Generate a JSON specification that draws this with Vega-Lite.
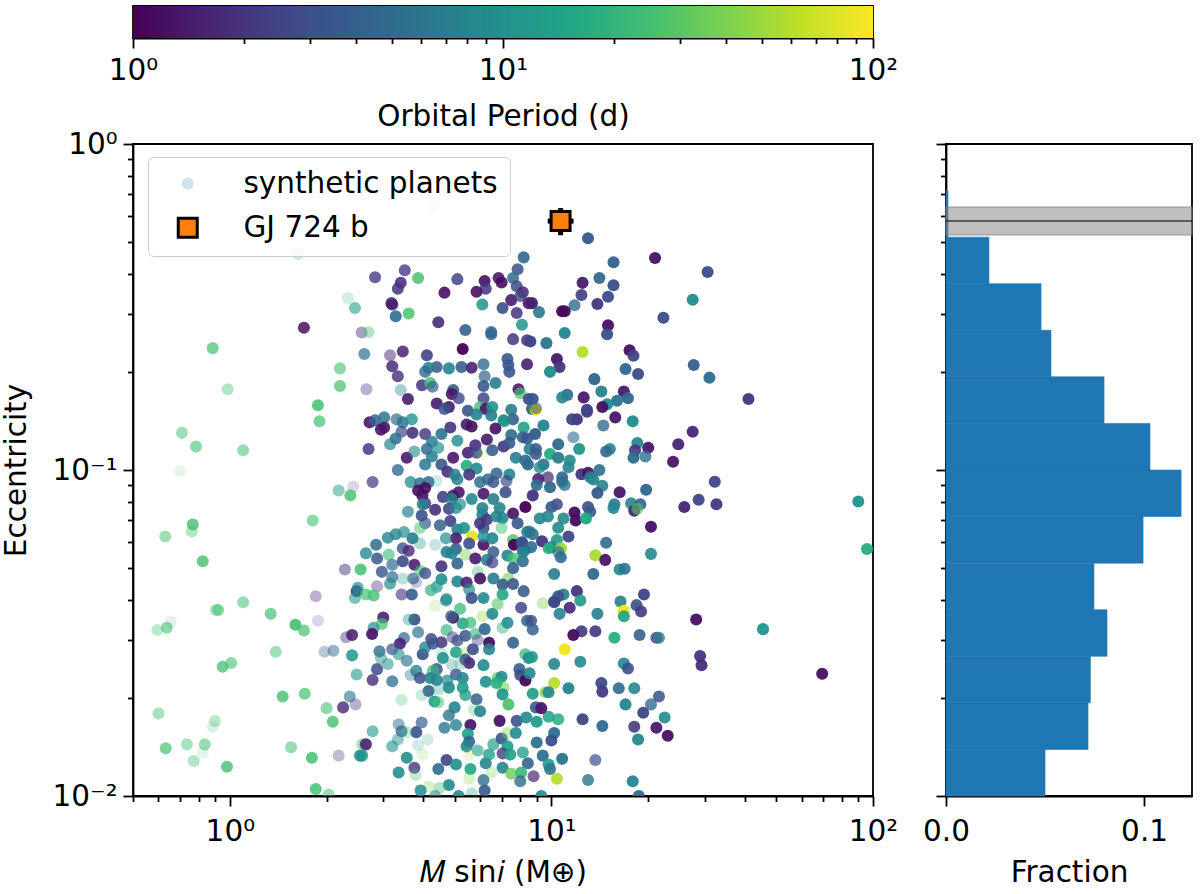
{"$schema":"https://vega.github.io/schema/vega-lite/v6.json","background":"white","padding":{"left":0,"top":5,"right":5,"bottom":5},"bounds":"flush","columns":2,"spacing":{"row":106,"column":73},
"config":{"font":"DejaVu Sans","view":{"stroke":"black","strokeWidth":1.8},"axis":{"grid":false,"labelFontSize":29.5,"titleFontSize":29.5,"titleFontWeight":"normal","labelColor":"black","titleColor":"black","domainColor":"black","tickColor":"black","domainWidth":1.8,"tickWidth":1.8,"labelOverlap":false,"labelFlush":false,"labelBound":false}},
"concat":[
{"width":740,"height":32,"data":{"values":[{"low":1,"high":100}]},"mark":{"type":"rect","color":{"gradient":"linear","x1":0,"y1":0,"x2":1,"y2":0,"stops":[{"offset":0,"color":"#440154"},{"offset":0.1,"color":"#482475"},{"offset":0.2,"color":"#414487"},{"offset":0.3,"color":"#355f8d"},{"offset":0.4,"color":"#2a788e"},{"offset":0.5,"color":"#21918c"},{"offset":0.6,"color":"#22a884"},{"offset":0.7,"color":"#44bf70"},{"offset":0.8,"color":"#7ad151"},{"offset":0.9,"color":"#bddf26"},{"offset":1,"color":"#fde725"}]}},"encoding":{"x":{"field":"low","type":"quantitative","scale":{"type":"log","domain":[1,100],"nice":false},"axis":{"title":"Orbital Period (d)","values":[1,2,3,4,5,6,7,8,9,10,20,30,40,50,60,70,80,90,100],"labelExpr":"datum.value==1?'10⁰':datum.value==10?'10¹':datum.value==100?'10²':''","tickSize":{"condition":{"test":"datum.value==1||datum.value==10||datum.value==100","value":10},"value":5.5},"labelPadding":8,"titlePadding":18}},"x2":{"field":"high"}}},
{"width":246,"height":32,"view":{"stroke":null},"data":{"values":[]},"mark":"point","encoding":{}},
{"height":652,"width":740,"layer":[
{"data":{"values":[
{"m":0.7,"e":0.0995,"p":28,"w":0.15},{"m":2.18,"e":0.0865,"p":12,"w":0.5},{"m":2.42,"e":0.089,"p":2,"w":0.2},{"m":2.37,"e":0.0835,"p":25,"w":0.8},{"m":1.81,"e":0.07,"p":25,"w":0.6},{"m":0.767,"e":0.068,"p":25,"w":0.8},{"m":0.762,"e":0.0648,"p":25,"w":0.4},{"m":0.63,"e":0.0625,"p":25,"w":0.5},{"m":0.824,"e":0.0525,"p":25,"w":0.8},{"m":2.28,"e":0.0495,"p":2,"w":0.5},{"m":2.55,"e":0.0495,"p":25,"w":0.85},{"m":2.48,"e":0.0425,"p":1.8,"w":0.9},{"m":2.45,"e":0.0405,"p":13,"w":0.6},{"m":2.5,"e":0.0435,"p":10,"w":0.7},{"m":1.85,"e":0.041,"p":1.5,"w":0.35},{"m":1.1,"e":0.0393,"p":25,"w":0.55},{"m":0.905,"e":0.0372,"p":25,"w":0.4},{"m":0.92,"e":0.0372,"p":25,"w":0.6},{"m":1.34,"e":0.0362,"p":25,"w":0.7},{"m":1.6,"e":0.0335,"p":25,"w":0.9},{"m":1.7,"e":0.0322,"p":25,"w":0.7},{"m":1.88,"e":0.0345,"p":2.2,"w":0.2},{"m":0.655,"e":0.0342,"p":25,"w":0.15},{"m":0.637,"e":0.0328,"p":25,"w":0.6},{"m":0.595,"e":0.0323,"p":25,"w":0.35},{"m":2.3,"e":0.0307,"p":2,"w":0.45},{"m":2.4,"e":0.0312,"p":1.3,"w":0.85},{"m":1.39,"e":0.0277,"p":25,"w":0.5},{"m":1.97,"e":0.0277,"p":4,"w":0.35},{"m":2.1,"e":0.0279,"p":4.5,"w":0.5},{"m":2.4,"e":0.027,"p":11,"w":0.85},{"m":2.48,"e":0.0236,"p":12,"w":0.6},{"m":1.01,"e":0.0256,"p":25,"w":0.6},{"m":0.95,"e":0.0249,"p":25,"w":0.75},{"m":1.71,"e":0.0206,"p":25,"w":0.7},{"m":1.46,"e":0.0202,"p":25,"w":0.8},{"m":2.36,"e":0.0202,"p":5,"w":0.6},{"m":2.25,"e":0.0187,"p":1.6,"w":0.8},{"m":2.46,"e":0.0191,"p":2.5,"w":0.4},{"m":2.0,"e":0.0186,"p":25,"w":0.6},{"m":2.09,"e":0.0169,"p":25,"w":0.8},{"m":0.6,"e":0.0179,"p":25,"w":0.45},{"m":0.9,"e":0.017,"p":25,"w":0.35},{"m":0.885,"e":0.0163,"p":25,"w":0.2},{"m":0.632,"e":0.014,"p":25,"w":0.7},{"m":0.735,"e":0.0144,"p":25,"w":0.45},{"m":0.836,"e":0.0144,"p":25,"w":0.55},{"m":0.825,"e":0.0136,"p":25,"w":0.15},{"m":0.772,"e":0.0128,"p":25,"w":0.4},{"m":0.98,"e":0.0123,"p":25,"w":0.8},{"m":1.55,"e":0.0141,"p":25,"w":0.55},{"m":1.8,"e":0.0131,"p":25,"w":0.85},{"m":2.18,"e":0.0133,"p":2.5,"w":0.35},{"m":2.54,"e":0.0133,"p":10,"w":0.85},{"m":1.85,"e":0.0105,"p":25,"w":0.85},{"m":2.03,"e":0.0101,"p":25,"w":0.5},{"m":2.6,"e":0.0144,"p":25,"w":0.3},
{"m":4.3,"e":0.645,"p":4,"w":0.15},{"m":2.33,"e":0.556,"p":2,"w":0.1},{"m":1.63,"e":0.46,"p":25,"w":0.3},{"m":0.885,"e":0.2365,"p":25,"w":0.7},{"m":0.985,"e":0.177,"p":25,"w":0.4},{"m":0.71,"e":0.13,"p":25,"w":0.5},{"m":1.1,"e":0.115,"p":25,"w":0.55},{"m":0.785,"e":0.118,"p":25,"w":0.6},{"m":2.2,"e":0.205,"p":25,"w":0.6},{"m":2.2,"e":0.181,"p":25,"w":0.7},{"m":1.88,"e":0.158,"p":25,"w":0.85},{"m":1.9,"e":0.141,"p":25,"w":0.7},{"m":1.7,"e":0.273,"p":1.2,"w":0.85},{"m":2.33,"e":0.337,"p":14,"w":0.2},
{"m":8.2,"e":0.449,"p":5,"w":0.9},{"m":7.85,"e":0.413,"p":3,"w":0.85},{"m":7.6,"e":0.388,"p":5,"w":0.85},{"m":6.85,"e":0.388,"p":1.4,"w":0.9},{"m":7,"e":0.376,"p":1.2,"w":0.9},{"m":6.2,"e":0.38,"p":1.2,"w":0.9},{"m":6.25,"e":0.36,"p":2,"w":0.85},{"m":5.85,"e":0.352,"p":1.2,"w":0.9},{"m":5.1,"e":0.385,"p":2.5,"w":0.85},{"m":4.65,"e":0.35,"p":1.2,"w":0.9},{"m":3.5,"e":0.41,"p":2.2,"w":0.8},{"m":2.83,"e":0.39,"p":2.2,"w":0.8},{"m":3.85,"e":0.388,"p":27,"w":0.85},{"m":3.4,"e":0.375,"p":1.6,"w":0.85},{"m":3.33,"e":0.36,"p":2,"w":0.85},{"m":3.18,"e":0.325,"p":1.8,"w":0.85},{"m":3.2,"e":0.322,"p":1.4,"w":0.85},{"m":2.45,"e":0.314,"p":14,"w":0.6},{"m":3.6,"e":0.302,"p":27,"w":0.85},{"m":3.28,"e":0.296,"p":5,"w":0.9},{"m":4.45,"e":0.284,"p":1.8,"w":0.9},{"m":5.4,"e":0.269,"p":4,"w":0.9},{"m":6.5,"e":0.265,"p":4.5,"w":0.85},{"m":6.5,"e":0.261,"p":4.5,"w":0.85},{"m":7.6,"e":0.252,"p":2,"w":0.85},{"m":6.1,"e":0.322,"p":11,"w":0.85},{"m":7.8,"e":0.366,"p":3,"w":0.85},{"m":8.15,"e":0.351,"p":1.6,"w":0.85},{"m":7.5,"e":0.332,"p":1.4,"w":0.9},{"m":8,"e":0.342,"p":2.5,"w":0.8},{"m":7.05,"e":0.314,"p":3,"w":0.9},{"m":7.8,"e":0.303,"p":2,"w":0.85},{"m":8.1,"e":0.279,"p":11,"w":0.85},{"m":8.4,"e":0.25,"p":2,"w":0.85},{"m":8.5,"e":0.325,"p":1.3,"w":0.9},{"m":2.57,"e":0.264,"p":1.8,"w":0.45},{"m":2.7,"e":0.265,"p":25,"w":0.4},{"m":2.62,"e":0.227,"p":5,"w":0.7},{"m":3.15,"e":0.225,"p":1.5,"w":0.5},{"m":3.45,"e":0.231,"p":1.5,"w":0.85},{"m":3.2,"e":0.208,"p":1.8,"w":0.85},{"m":3.33,"e":0.194,"p":1.8,"w":0.8},{"m":2.66,"e":0.177,"p":2.5,"w":0.4},{"m":3.4,"e":0.176,"p":8,"w":0.4},{"m":3.58,"e":0.165,"p":1.4,"w":0.9},{"m":4.1,"e":0.225,"p":2.5,"w":0.9},{"m":5.3,"e":0.235,"p":1,"w":0.95},{"m":4.4,"e":0.207,"p":3.5,"w":0.85},{"m":4.15,"e":0.206,"p":7,"w":0.85},{"m":4.05,"e":0.2,"p":4.5,"w":0.8},{"m":4.8,"e":0.205,"p":8,"w":0.9},{"m":5.25,"e":0.207,"p":4,"w":0.9},{"m":5.65,"e":0.206,"p":1.5,"w":0.9},{"m":6.15,"e":0.211,"p":5,"w":0.8},{"m":6.2,"e":0.194,"p":4,"w":0.7},{"m":6.15,"e":0.181,"p":3.7,"w":0.9},{"m":6.7,"e":0.185,"p":7,"w":0.9},{"m":7.3,"e":0.219,"p":3.5,"w":0.9},{"m":7.35,"e":0.21,"p":3.5,"w":0.9},{"m":7.4,"e":0.2,"p":3.5,"w":0.9},{"m":8.4,"e":0.211,"p":1.5,"w":0.9},{"m":3.96,"e":0.182,"p":2,"w":0.85},{"m":4.2,"e":0.185,"p":25,"w":0.85},{"m":4.27,"e":0.18,"p":4,"w":0.7},{"m":4.95,"e":0.176,"p":3.5,"w":0.9},{"m":4.9,"e":0.171,"p":1.3,"w":0.9},{"m":5.15,"e":0.166,"p":2.5,"w":0.8},{"m":4.4,"e":0.16,"p":1.4,"w":0.9},{"m":4.8,"e":0.156,"p":1.3,"w":0.9},{"m":4.65,"e":0.154,"p":3,"w":0.85},{"m":6.15,"e":0.166,"p":2.5,"w":0.85},{"m":6,"e":0.156,"p":25,"w":0.8},{"m":6.25,"e":0.154,"p":1.3,"w":0.9},{"m":6.55,"e":0.156,"p":11,"w":0.9},{"m":5.5,"e":0.152,"p":3.5,"w":0.9},{"m":5.85,"e":0.148,"p":8,"w":0.9},{"m":6.5,"e":0.147,"p":7,"w":0.9},{"m":7.5,"e":0.153,"p":7,"w":0.9},{"m":7.1,"e":0.142,"p":8,"w":0.9},{"m":7.6,"e":0.143,"p":4,"w":0.9},{"m":7.9,"e":0.177,"p":1.3,"w":0.9},{"m":8,"e":0.172,"p":25,"w":0.7},{"m":8.5,"e":0.165,"p":2.5,"w":0.9},
{"m":2.72,"e":0.14,"p":1.3,"w":0.9},{"m":2.83,"e":0.142,"p":4,"w":0.85},{"m":3.02,"e":0.145,"p":6,"w":0.85},{"m":2.95,"e":0.133,"p":1.3,"w":0.9},{"m":3.02,"e":0.135,"p":1.3,"w":0.9},{"m":3.3,"e":0.143,"p":5,"w":0.7},{"m":3.45,"e":0.14,"p":6,"w":0.85},{"m":3.68,"e":0.143,"p":11,"w":0.8},{"m":3.42,"e":0.131,"p":2.8,"w":0.7},{"m":3.7,"e":0.13,"p":2,"w":0.9},{"m":3.28,"e":0.125,"p":5,"w":0.85},{"m":3.15,"e":0.12,"p":8,"w":0.7},{"m":2.7,"e":0.116,"p":2.2,"w":0.85},{"m":3.55,"e":0.109,"p":1.3,"w":0.9},{"m":3.75,"e":0.114,"p":8,"w":0.6},{"m":4.05,"e":0.129,"p":1.8,"w":0.8},{"m":4.55,"e":0.129,"p":6,"w":0.9},{"m":4.25,"e":0.122,"p":7,"w":0.85},{"m":4.1,"e":0.116,"p":5,"w":0.85},{"m":4.45,"e":0.117,"p":10,"w":0.7},{"m":4.25,"e":0.11,"p":7,"w":0.85},{"m":5.1,"e":0.123,"p":9,"w":0.8},{"m":4.85,"e":0.135,"p":2,"w":0.9},{"m":5.45,"e":0.138,"p":1.4,"w":0.9},{"m":5.65,"e":0.136,"p":1.2,"w":0.9},{"m":6.7,"e":0.134,"p":1.2,"w":0.9},{"m":7.15,"e":0.141,"p":11,"w":0.7},{"m":8.2,"e":0.135,"p":15,"w":0.9},{"m":7.5,"e":0.128,"p":5,"w":0.9},{"m":8.15,"e":0.126,"p":4,"w":0.9},{"m":8.4,"e":0.125,"p":3.5,"w":0.9},{"m":6.3,"e":0.124,"p":1.4,"w":0.9},{"m":5.8,"e":0.119,"p":1.8,"w":0.9},{"m":5.5,"e":0.113,"p":1.5,"w":0.9},{"m":5.85,"e":0.113,"p":3,"w":0.85},{"m":6.1,"e":0.112,"p":60,"w":0.15},{"m":6.55,"e":0.115,"p":4,"w":0.9},{"m":7.1,"e":0.118,"p":2,"w":0.9},{"m":7.4,"e":0.121,"p":3.5,"w":0.9},{"m":7.75,"e":0.109,"p":7,"w":0.9},{"m":8.3,"e":0.107,"p":4.5,"w":0.9},{"m":4.95,"e":0.109,"p":1.3,"w":0.9},{"m":4.05,"e":0.104,"p":6,"w":0.85},{"m":4.55,"e":0.104,"p":3.5,"w":0.9},{"m":3.33,"e":0.1,"p":5,"w":0.8},{"m":5.45,"e":0.103,"p":17,"w":0.9},{"m":5.85,"e":0.101,"p":9,"w":0.9},{"m":4.75,"e":0.0987,"p":1.8,"w":0.9},{"m":5,"e":0.0968,"p":7,"w":0.85},{"m":5.55,"e":0.0968,"p":2,"w":0.9},{"m":5.1,"e":0.0936,"p":7,"w":0.85},{"m":3.65,"e":0.0918,"p":9,"w":0.75},{"m":3.9,"e":0.091,"p":6,"w":0.85},{"m":4.15,"e":0.0918,"p":5,"w":0.85},{"m":4.4,"e":0.0925,"p":12,"w":0.2},{"m":2.78,"e":0.0918,"p":2,"w":0.7},{"m":6,"e":0.0918,"p":5,"w":0.85},{"m":6.35,"e":0.0936,"p":5,"w":0.85},{"m":6.75,"e":0.0975,"p":4,"w":0.85},{"m":7.4,"e":0.0968,"p":8,"w":0.9},{"m":6.6,"e":0.0918,"p":3.5,"w":0.85},{"m":7.25,"e":0.0925,"p":3,"w":0.7},{"m":7.2,"e":0.0855,"p":3,"w":0.9},{"m":6.15,"e":0.0845,"p":1.3,"w":0.9},{"m":4.05,"e":0.088,"p":1.2,"w":0.9},{"m":3.85,"e":0.0865,"p":1.2,"w":0.9},{"m":3.97,"e":0.0835,"p":1.2,"w":0.9},{"m":4.6,"e":0.0827,"p":2.5,"w":0.9},{"m":4.95,"e":0.0835,"p":1.4,"w":0.9},{"m":5.15,"e":0.0855,"p":1.3,"w":0.9},{"m":4.9,"e":0.0815,"p":7,"w":0.85},{"m":5.65,"e":0.0815,"p":9,"w":0.9},{"m":4.05,"e":0.079,"p":1.8,"w":0.8},{"m":3.98,"e":0.0785,"p":8,"w":0.85},{"m":5.2,"e":0.0785,"p":10,"w":0.7},{"m":4.35,"e":0.0755,"p":1.8,"w":0.9},{"m":4.8,"e":0.076,"p":2.8,"w":0.9},{"m":5.05,"e":0.0765,"p":9,"w":0.75},{"m":3.95,"e":0.0725,"p":3.2,"w":0.9},{"m":3.58,"e":0.0745,"p":8,"w":0.7},{"m":6.1,"e":0.0765,"p":8,"w":0.9},{"m":6.6,"e":0.0815,"p":7,"w":0.9},{"m":6.9,"e":0.0765,"p":8,"w":0.9},{"m":7.6,"e":0.0735,"p":1.2,"w":0.9},{"m":8.3,"e":0.077,"p":1,"w":0.95},{"m":6.1,"e":0.073,"p":8,"w":0.9},{"m":6.3,"e":0.0705,"p":2.2,"w":0.9},{"m":7.05,"e":0.0712,"p":8,"w":0.9},{"m":6.75,"e":0.072,"p":8,"w":0.9},{"m":7.85,"e":0.0686,"p":3.5,"w":0.9},{"m":4.05,"e":0.0686,"p":3.5,"w":0.7},{"m":3.9,"e":0.0664,"p":25,"w":0.5},{"m":4.5,"e":0.0677,"p":4,"w":0.85},{"m":4.85,"e":0.0697,"p":2.5,"w":0.9},{"m":5.1,"e":0.0657,"p":8,"w":0.9},{"m":5.35,"e":0.0664,"p":11,"w":0.9},{"m":6.15,"e":0.0664,"p":3.5,"w":0.9},{"m":6,"e":0.0686,"p":2,"w":0.9},{"m":7,"e":0.0664,"p":25,"w":0.5},{"m":5.65,"e":0.0625,"p":85,"w":0.95},{"m":5.05,"e":0.0617,"p":1.4,"w":0.9},{"m":5.55,"e":0.0595,"p":3,"w":0.9},{"m":6.15,"e":0.059,"p":1.2,"w":0.9},{"m":6.55,"e":0.0617,"p":8,"w":0.9},{"m":6.15,"e":0.0625,"p":9,"w":0.8},{"m":7.6,"e":0.061,"p":30,"w":0.85},{"m":7.65,"e":0.059,"p":1,"w":0.95},{"m":8.1,"e":0.06,"p":3.5,"w":0.9},{"m":8.4,"e":0.0645,"p":8,"w":0.9},{"m":8.15,"e":0.0575,"p":7,"w":0.9},{"m":4.7,"e":0.0617,"p":9,"w":0.7},{"m":4.35,"e":0.059,"p":10,"w":0.25},{"m":3.9,"e":0.0595,"p":12,"w":0.35},{"m":3.7,"e":0.0617,"p":7,"w":0.9},{"m":3.1,"e":0.062,"p":8,"w":0.8},{"m":3.28,"e":0.0635,"p":8,"w":0.8},{"m":3.48,"e":0.0645,"p":9,"w":0.7},{"m":2.85,"e":0.059,"p":5,"w":0.85},{"m":2.65,"e":0.0555,"p":9,"w":0.8},{"m":2.87,"e":0.0535,"p":3.5,"w":0.85},{"m":3.12,"e":0.055,"p":22,"w":0.6},{"m":3.45,"e":0.0575,"p":3.3,"w":0.8},{"m":3.6,"e":0.0565,"p":1.6,"w":0.8},{"m":3.45,"e":0.0525,"p":2.8,"w":0.9},{"m":3.75,"e":0.0512,"p":1.5,"w":0.9},{"m":3.2,"e":0.0512,"p":5,"w":0.7},{"m":2.97,"e":0.0487,"p":3.2,"w":0.8},{"m":3.2,"e":0.047,"p":5,"w":0.7},{"m":3.15,"e":0.0448,"p":9,"w":0.7},{"m":2.87,"e":0.044,"p":1.8,"w":0.4},{"m":2.65,"e":0.0415,"p":25,"w":0.7},{"m":2.8,"e":0.0412,"p":25,"w":0.8},{"m":3.42,"e":0.0415,"p":1.8,"w":0.6},{"m":3.68,"e":0.0415,"p":3.7,"w":0.9},{"m":3.45,"e":0.0465,"p":12,"w":0.3},{"m":3.72,"e":0.0465,"p":5,"w":0.7},{"m":3.8,"e":0.0452,"p":2.5,"w":0.3},{"m":3.92,"e":0.049,"p":25,"w":0.6},{"m":4.05,"e":0.0482,"p":3,"w":0.8},{"m":4.55,"e":0.0507,"p":2,"w":0.9},{"m":4.55,"e":0.0462,"p":10,"w":0.9},{"m":4.4,"e":0.0438,"p":10,"w":0.7},{"m":4.22,"e":0.0428,"p":20,"w":0.7},{"m":5.1,"e":0.0517,"p":4.5,"w":0.9},{"m":4.72,"e":0.056,"p":8,"w":0.9},{"m":5.05,"e":0.0572,"p":4,"w":0.9},{"m":4.9,"e":0.0555,"p":8,"w":0.9},{"m":5.4,"e":0.055,"p":40,"w":0.45},{"m":5.8,"e":0.0535,"p":1.3,"w":0.9},{"m":6.3,"e":0.053,"p":8,"w":0.9},{"m":6.6,"e":0.056,"p":3.5,"w":0.85},{"m":7.3,"e":0.0547,"p":8,"w":0.9},{"m":7.6,"e":0.0535,"p":25,"w":0.8},{"m":6.55,"e":0.052,"p":2,"w":0.7},{"m":7.6,"e":0.05,"p":4,"w":0.9},{"m":8.15,"e":0.0525,"p":5,"w":0.9},{"m":8.25,"e":0.0567,"p":8,"w":0.9},{"m":5.1,"e":0.0455,"p":8,"w":0.9},{"m":5.45,"e":0.0452,"p":1.5,"w":0.9},{"m":5.9,"e":0.0487,"p":25,"w":0.4},{"m":6,"e":0.0465,"p":1.2,"w":0.9},{"m":6.6,"e":0.0465,"p":7,"w":0.9},{"m":7.35,"e":0.0465,"p":40,"w":0.6},{"m":7.05,"e":0.0445,"p":3.5,"w":0.9},{"m":7.6,"e":0.0447,"p":3.5,"w":0.9},{"m":5.55,"e":0.043,"p":9,"w":0.7},{"m":5.65,"e":0.0405,"p":3,"w":0.9},{"m":6.15,"e":0.0405,"p":9,"w":0.9},{"m":7.05,"e":0.0415,"p":16,"w":0.9},{"m":8.2,"e":0.0425,"p":4,"w":0.9},{"m":4.72,"e":0.0402,"p":9,"w":0.7},
{"m":3,"e":0.0353,"p":1.5,"w":0.9},{"m":2.97,"e":0.0337,"p":25,"w":0.7},{"m":2.8,"e":0.0328,"p":9,"w":0.7},{"m":2.77,"e":0.0314,"p":1.2,"w":0.9},{"m":3.75,"e":0.0348,"p":3,"w":0.9},{"m":3.6,"e":0.0348,"p":9,"w":0.4},{"m":3.85,"e":0.0318,"p":6,"w":0.7},{"m":3.48,"e":0.0305,"p":4,"w":0.7},{"m":3.38,"e":0.0293,"p":1.5,"w":0.9},{"m":3.2,"e":0.0282,"p":3,"w":0.7},{"m":3.35,"e":0.0272,"p":10,"w":0.6},{"m":2.92,"e":0.0278,"p":5,"w":0.8},{"m":2.95,"e":0.0265,"p":10,"w":0.5},{"m":3.1,"e":0.0254,"p":11,"w":0.55},{"m":3.55,"e":0.026,"p":6,"w":0.65},{"m":3.98,"e":0.0272,"p":3,"w":0.9},{"m":4.05,"e":0.0286,"p":8,"w":0.8},{"m":4.23,"e":0.0303,"p":3,"w":0.85},{"m":4.55,"e":0.0296,"p":2,"w":0.85},{"m":4.28,"e":0.0293,"p":3.3,"w":0.85},{"m":4.55,"e":0.0274,"p":14,"w":0.2},{"m":4.6,"e":0.0265,"p":11,"w":0.9},{"m":4.72,"e":0.0323,"p":20,"w":0.65},{"m":4.93,"e":0.0307,"p":2,"w":0.5},{"m":5.1,"e":0.03,"p":3,"w":0.75},{"m":5.4,"e":0.031,"p":3.5,"w":0.85},{"m":5.05,"e":0.0276,"p":16,"w":0.9},{"m":5.4,"e":0.0275,"p":50,"w":0.3},{"m":5.7,"e":0.0282,"p":3,"w":0.9},{"m":5.8,"e":0.0314,"p":20,"w":0.6},{"m":6.2,"e":0.0325,"p":4.5,"w":0.9},{"m":6.4,"e":0.0295,"p":1.2,"w":0.95},{"m":6.4,"e":0.0282,"p":8,"w":0.9},{"m":5.9,"e":0.0301,"p":2,"w":0.4},{"m":4.95,"e":0.0352,"p":1.2,"w":0.9},{"m":4.88,"e":0.0356,"p":4,"w":0.8},{"m":5.2,"e":0.0375,"p":22,"w":0.75},{"m":5.3,"e":0.0338,"p":14,"w":0.85},{"m":5.6,"e":0.034,"p":22,"w":0.7},{"m":4.35,"e":0.0383,"p":40,"w":0.2},{"m":4.7,"e":0.0398,"p":9,"w":0.7},{"m":6.1,"e":0.0356,"p":50,"w":0.35},{"m":6.55,"e":0.0362,"p":9,"w":0.9},{"m":7.05,"e":0.0328,"p":22,"w":0.5},{"m":7.3,"e":0.034,"p":10,"w":0.9},{"m":6.8,"e":0.0388,"p":30,"w":0.6},{"m":7.6,"e":0.0295,"p":4,"w":0.9},{"m":8.05,"e":0.0378,"p":2.5,"w":0.85},{"m":8.4,"e":0.0345,"p":4,"w":0.85},{"m":8.3,"e":0.0272,"p":22,"w":0.75},{"m":8.5,"e":0.0265,"p":9,"w":0.9},{"m":5.4,"e":0.0262,"p":2.5,"w":0.85},{"m":5.55,"e":0.0256,"p":1.8,"w":0.9},{"m":6.15,"e":0.0252,"p":9,"w":0.9},{"m":4.9,"e":0.0253,"p":11,"w":0.3},{"m":5.2,"e":0.0254,"p":20,"w":0.3},{"m":3.8,"e":0.0242,"p":8,"w":0.8},{"m":3.65,"e":0.0235,"p":6,"w":0.4},{"m":3.9,"e":0.023,"p":3,"w":0.85},{"m":4.4,"e":0.0245,"p":3.5,"w":0.85},{"m":4.28,"e":0.0242,"p":22,"w":0.7},{"m":2.87,"e":0.0245,"p":2.8,"w":0.85},{"m":2.78,"e":0.0227,"p":1.8,"w":0.8},{"m":3.2,"e":0.0225,"p":5,"w":0.75},{"m":4.2,"e":0.023,"p":8,"w":0.9},{"m":4.4,"e":0.0227,"p":8,"w":0.9},{"m":4.75,"e":0.0226,"p":10,"w":0.75},{"m":5.05,"e":0.0236,"p":3.5,"w":0.8},{"m":5.3,"e":0.023,"p":8,"w":0.9},{"m":4.8,"e":0.0215,"p":9,"w":0.9},{"m":4.15,"e":0.021,"p":4,"w":0.9},{"m":4.45,"e":0.0213,"p":12,"w":0.3},{"m":3.95,"e":0.0204,"p":18,"w":0.25},{"m":5.3,"e":0.0215,"p":13,"w":0.9},{"m":5.4,"e":0.0204,"p":14,"w":0.8},{"m":4.33,"e":0.0195,"p":13,"w":0.9},{"m":4.45,"e":0.0194,"p":25,"w":0.5},{"m":3.42,"e":0.0197,"p":25,"w":0.3},{"m":6.25,"e":0.0224,"p":10,"w":0.9},{"m":6.8,"e":0.023,"p":30,"w":0.7},{"m":7,"e":0.0232,"p":9,"w":0.9},{"m":7.1,"e":0.0215,"p":40,"w":0.6},{"m":6.75,"e":0.0222,"p":18,"w":0.9},{"m":7.05,"e":0.0205,"p":11,"w":0.9},{"m":7.35,"e":0.0191,"p":28,"w":0.95},{"m":7.95,"e":0.0245,"p":4,"w":0.9},{"m":8,"e":0.0235,"p":3,"w":0.9},{"m":8.3,"e":0.0226,"p":1.1,"w":0.95},{"m":5.85,"e":0.0198,"p":4,"w":0.85},{"m":5,"e":0.0187,"p":8,"w":0.9},{"m":4.8,"e":0.0177,"p":6,"w":0.8},{"m":5.05,"e":0.0165,"p":7,"w":0.8},{"m":4.65,"e":0.0162,"p":6,"w":0.8},{"m":5.75,"e":0.0184,"p":25,"w":0.3},{"m":6,"e":0.0182,"p":8,"w":0.9},{"m":6.9,"e":0.017,"p":1.3,"w":0.95},{"m":7.8,"e":0.017,"p":3.3,"w":0.9},{"m":8.35,"e":0.0174,"p":9,"w":0.9},{"m":5.6,"e":0.0165,"p":1.4,"w":0.95},{"m":5.5,"e":0.0155,"p":14,"w":0.9},{"m":5.55,"e":0.0147,"p":4.5,"w":0.9},{"m":5.45,"e":0.0142,"p":8,"w":0.9},{"m":5.9,"e":0.0138,"p":12,"w":0.6},{"m":5.55,"e":0.0134,"p":50,"w":0.2},{"m":3.8,"e":0.0157,"p":3,"w":0.9},{"m":3.95,"e":0.0168,"p":4,"w":0.7},{"m":3.35,"e":0.0166,"p":5,"w":0.5},{"m":3.42,"e":0.0158,"p":5,"w":0.8},{"m":3.55,"e":0.0157,"p":25,"w":0.3},{"m":3.33,"e":0.0149,"p":10,"w":0.5},{"m":3.2,"e":0.0142,"p":10,"w":0.6},{"m":2.78,"e":0.0158,"p":11,"w":0.6},{"m":2.57,"e":0.0144,"p":25,"w":0.3},{"m":2.65,"e":0.0144,"p":1.5,"w":0.9},{"m":2.58,"e":0.0133,"p":10,"w":0.8},{"m":3.85,"e":0.0143,"p":12,"w":0.2},{"m":4.12,"e":0.0149,"p":12,"w":0.2},{"m":3.97,"e":0.0134,"p":40,"w":0.2},{"m":3.55,"e":0.0131,"p":10,"w":0.9},{"m":4.72,"e":0.0129,"p":2.5,"w":0.9},{"m":4.45,"e":0.0121,"p":5,"w":0.9},{"m":3.75,"e":0.0122,"p":2,"w":0.8},{"m":3.35,"e":0.0118,"p":10,"w":0.9},{"m":3.78,"e":0.0116,"p":25,"w":0.3},{"m":5.05,"e":0.0125,"p":10,"w":0.9},{"m":5.6,"e":0.0121,"p":15,"w":0.9},{"m":5.55,"e":0.0113,"p":45,"w":0.3},{"m":4.8,"e":0.0108,"p":9,"w":0.9},{"m":4.15,"e":0.0107,"p":40,"w":0.3},{"m":4.5,"e":0.0106,"p":25,"w":0.4},{"m":3.92,"e":0.0104,"p":9,"w":0.85},{"m":4.35,"e":0.01,"p":10,"w":0.6},{"m":5.15,"e":0.01,"p":9,"w":0.9},{"m":5.65,"e":0.0102,"p":12,"w":0.3},{"m":6.15,"e":0.0112,"p":5,"w":0.8},{"m":6.2,"e":0.0104,"p":3.5,"w":0.9},{"m":6.5,"e":0.0118,"p":40,"w":0.3},{"m":6.25,"e":0.0126,"p":8,"w":0.9},{"m":6.4,"e":0.0134,"p":14,"w":0.8},{"m":6.6,"e":0.0144,"p":14,"w":0.7},{"m":7,"e":0.015,"p":3.5,"w":0.9},{"m":7.3,"e":0.0142,"p":13,"w":0.9},{"m":7.05,"e":0.0135,"p":2.2,"w":0.8},{"m":7.45,"e":0.0134,"p":13,"w":0.9},{"m":7.3,"e":0.0156,"p":40,"w":0.4},{"m":7.75,"e":0.0156,"p":9,"w":0.9},{"m":8.15,"e":0.0136,"p":14,"w":0.8},{"m":7.05,"e":0.0122,"p":8,"w":0.9},{"m":7.5,"e":0.0117,"p":35,"w":0.8},{"m":8.05,"e":0.0118,"p":22,"w":0.9},{"m":8,"e":0.0111,"p":5,"w":0.8},{"m":8.45,"e":0.0126,"p":4.5,"w":0.9},
{"m":8.65,"e":0.0345,"p":3.2,"w":0.85},{"m":8.75,"e":0.0324,"p":4,"w":0.85},{"m":10.6,"e":0.0362,"p":8,"w":0.9},{"m":10.2,"e":0.0395,"p":8,"w":0.9},{"m":11.4,"e":0.0378,"p":1.6,"w":0.9},{"m":13.9,"e":0.0362,"p":7,"w":0.9},{"m":12.4,"e":0.032,"p":2,"w":0.9},{"m":13.7,"e":0.032,"p":2,"w":0.9},{"m":11.7,"e":0.0312,"p":1.1,"w":0.95},{"m":15.7,"e":0.0306,"p":18,"w":0.95},{"m":18.8,"e":0.0312,"p":4,"w":0.9},{"m":21.2,"e":0.0306,"p":2,"w":0.8},{"m":21.6,"e":0.0306,"p":7,"w":0.8},{"m":16.4,"e":0.0395,"p":7,"w":0.9},{"m":16.8,"e":0.037,"p":95,"w":0.95},{"m":16.8,"e":0.0356,"p":13,"w":0.9},{"m":18.4,"e":0.0385,"p":3,"w":0.9},{"m":19,"e":0.0368,"p":2.2,"w":0.9},{"m":28.2,"e":0.0348,"p":1.2,"w":0.95},{"m":29,"e":0.0269,"p":2,"w":0.95},{"m":29.3,"e":0.0252,"p":1.8,"w":0.95},{"m":11,"e":0.0282,"p":90,"w":0.95},{"m":8.7,"e":0.0267,"p":12,"w":0.9},{"m":10.2,"e":0.0254,"p":8,"w":0.9},{"m":12.3,"e":0.0258,"p":9,"w":0.9},{"m":16.8,"e":0.0255,"p":8,"w":0.9},{"m":17.3,"e":0.0246,"p":3,"w":0.9},{"m":8.55,"e":0.0238,"p":8,"w":0.9},{"m":10.2,"e":0.0222,"p":60,"w":0.95},{"m":9.6,"e":0.0208,"p":40,"w":0.8},{"m":9.8,"e":0.0208,"p":8,"w":0.9},{"m":8.75,"e":0.0206,"p":12,"w":0.9},{"m":11.3,"e":0.0214,"p":8,"w":0.95},{"m":14.3,"e":0.0222,"p":2.8,"w":0.95},{"m":14.4,"e":0.0209,"p":2.2,"w":0.95},{"m":16.2,"e":0.0214,"p":5,"w":0.9},{"m":18.1,"e":0.0214,"p":9,"w":0.9},{"m":17,"e":0.0191,"p":8,"w":0.95},{"m":20.4,"e":0.0191,"p":5,"w":0.8},{"m":21.6,"e":0.0202,"p":3,"w":0.85},{"m":19.3,"e":0.018,"p":2.5,"w":0.95},{"m":22.5,"e":0.0174,"p":9,"w":0.9},{"m":18.1,"e":0.0163,"p":2.2,"w":0.9},{"m":21.2,"e":0.0162,"p":1.4,"w":0.95},{"m":23,"e":0.0153,"p":1.2,"w":0.95},{"m":18.6,"e":0.0149,"p":9,"w":0.95},{"m":14.4,"e":0.0164,"p":5,"w":0.95},{"m":12.5,"e":0.0172,"p":2.5,"w":0.95},{"m":10.5,"e":0.0172,"p":17,"w":0.85},{"m":9.8,"e":0.0175,"p":13,"w":0.85},{"m":9,"e":0.0169,"p":13,"w":0.95},{"m":8.95,"e":0.0187,"p":3.5,"w":0.9},{"m":9.3,"e":0.0186,"p":1.3,"w":0.95},{"m":10.2,"e":0.0156,"p":5,"w":0.95},{"m":10,"e":0.0148,"p":3,"w":0.95},{"m":9,"e":0.0146,"p":6,"w":0.95},{"m":10.8,"e":0.013,"p":6,"w":0.95},{"m":9.4,"e":0.0133,"p":6,"w":0.95},{"m":9.8,"e":0.0125,"p":13,"w":0.9},{"m":9.9,"e":0.0121,"p":6,"w":0.9},{"m":13.7,"e":0.0129,"p":3,"w":0.7},{"m":8.8,"e":0.0115,"p":1.6,"w":0.7},{"m":10.4,"e":0.0113,"p":60,"w":0.95},{"m":13,"e":0.0112,"p":6,"w":0.8},{"m":17.9,"e":0.0111,"p":8,"w":0.95},{"m":18.7,"e":0.01,"p":5,"w":0.95},{"m":9.3,"e":0.01,"p":10,"w":0.95},
{"m":17.9,"e":0.141,"p":9,"w":0.95},{"m":15.8,"e":0.145,"p":1.3,"w":0.95},{"m":14.5,"e":0.137,"p":5,"w":0.8},{"m":12,"e":0.143,"p":2,"w":0.95},{"m":11.6,"e":0.143,"p":2.5,"w":0.95},{"m":12.9,"e":0.151,"p":2.3,"w":0.95},{"m":11.7,"e":0.126,"p":5,"w":0.6},{"m":12.2,"e":0.116,"p":12,"w":0.95},{"m":10.5,"e":0.12,"p":5,"w":0.95},{"m":9.45,"e":0.137,"p":8,"w":0.95},{"m":8.9,"e":0.129,"p":3.7,"w":0.95},{"m":8.55,"e":0.116,"p":7,"w":0.9},{"m":8.95,"e":0.116,"p":4,"w":0.9},{"m":8.95,"e":0.112,"p":3.7,"w":0.9},{"m":8.45,"e":0.104,"p":5,"w":0.95},{"m":9.9,"e":0.112,"p":17,"w":0.95},{"m":10.5,"e":0.109,"p":7,"w":0.95},{"m":11.4,"e":0.107,"p":9,"w":0.9},{"m":11.3,"e":0.102,"p":8,"w":0.9},{"m":9.45,"e":0.104,"p":5.5,"w":0.9},{"m":9.2,"e":0.102,"p":9,"w":0.8},{"m":9.75,"e":0.095,"p":1.6,"w":0.7},{"m":9.1,"e":0.0938,"p":1.5,"w":0.9},{"m":9,"e":0.09,"p":5,"w":0.9},{"m":10.8,"e":0.095,"p":5,"w":0.9},{"m":10.8,"e":0.092,"p":5,"w":0.9},{"m":11,"e":0.09,"p":6,"w":0.8},{"m":9.9,"e":0.0885,"p":5,"w":0.95},{"m":8.75,"e":0.0835,"p":2,"w":0.95},{"m":12.4,"e":0.097,"p":2,"w":0.95},{"m":13,"e":0.098,"p":1.3,"w":0.95},{"m":13.2,"e":0.095,"p":7,"w":0.9},{"m":13.5,"e":0.0935,"p":8,"w":0.9},{"m":14.1,"e":0.1,"p":5,"w":0.9},{"m":14.4,"e":0.0895,"p":8,"w":0.9},{"m":13.9,"e":0.085,"p":3.5,"w":0.95},{"m":16.3,"e":0.0855,"p":1.3,"w":0.95},{"m":19.7,"e":0.087,"p":4.5,"w":0.95},{"m":18.5,"e":0.121,"p":9,"w":0.95},{"m":20,"e":0.117,"p":1.3,"w":0.95},{"m":18.2,"e":0.115,"p":2,"w":0.9},{"m":18,"e":0.109,"p":5,"w":0.95},{"m":19.6,"e":0.11,"p":5,"w":0.8},{"m":15.2,"e":0.116,"p":8,"w":0.9},{"m":14.8,"e":0.114,"p":5,"w":0.9},{"m":24.8,"e":0.12,"p":1.6,"w":0.95},{"m":27.5,"e":0.131,"p":1.6,"w":0.95},{"m":23.9,"e":0.106,"p":1.3,"w":0.95},{"m":32.2,"e":0.092,"p":2.5,"w":0.95},{"m":28.7,"e":0.081,"p":2.5,"w":0.95},{"m":32.6,"e":0.0785,"p":2,"w":0.95},{"m":25.9,"e":0.077,"p":1.6,"w":0.95},{"m":15.7,"e":0.0785,"p":7,"w":0.9},{"m":15.6,"e":0.0765,"p":8,"w":0.9},{"m":17.7,"e":0.079,"p":8,"w":0.9},{"m":18.9,"e":0.0785,"p":4,"w":0.9},{"m":18.1,"e":0.075,"p":1.6,"w":0.95},{"m":18.5,"e":0.076,"p":30,"w":0.6},{"m":20.4,"e":0.067,"p":1.2,"w":0.95},{"m":10.4,"e":0.0785,"p":2.5,"w":0.85},{"m":10,"e":0.077,"p":3.5,"w":0.9},{"m":13,"e":0.077,"p":3,"w":0.9},{"m":13.2,"e":0.0745,"p":3.5,"w":0.9},{"m":11.8,"e":0.074,"p":1.1,"w":0.95},{"m":11.9,"e":0.07,"p":1.1,"w":0.95},{"m":12.8,"e":0.071,"p":15,"w":0.95},{"m":10.9,"e":0.071,"p":9,"w":0.9},{"m":9.75,"e":0.072,"p":8,"w":0.9},{"m":9.2,"e":0.071,"p":8,"w":0.9},{"m":10.5,"e":0.0665,"p":9,"w":0.9},{"m":8.55,"e":0.0648,"p":6,"w":0.8},{"m":8.75,"e":0.0635,"p":6,"w":0.9},{"m":11.3,"e":0.0625,"p":2.8,"w":0.95},{"m":9.35,"e":0.0605,"p":2,"w":0.95},{"m":10.4,"e":0.061,"p":12,"w":0.9},{"m":14.8,"e":0.0598,"p":5,"w":0.9},{"m":8.1,"e":0.0598,"p":3,"w":0.9},{"m":8.65,"e":0.058,"p":5,"w":0.9},{"m":10,"e":0.058,"p":8,"w":0.9},{"m":9.8,"e":0.0575,"p":17,"w":0.9},{"m":10.7,"e":0.0575,"p":50,"w":0.95},{"m":10.5,"e":0.056,"p":6,"w":0.7},{"m":10.7,"e":0.054,"p":5,"w":0.9},{"m":8.15,"e":0.056,"p":8,"w":0.9},{"m":13.7,"e":0.0548,"p":55,"w":0.95},{"m":14.7,"e":0.053,"p":1.3,"w":0.95},{"m":20.4,"e":0.0553,"p":9,"w":0.9},{"m":16.3,"e":0.0495,"p":8,"w":0.9},{"m":16.9,"e":0.0498,"p":6,"w":0.9},{"m":10.2,"e":0.048,"p":7,"w":0.9},{"m":13.5,"e":0.048,"p":5,"w":0.95},{"m":12,"e":0.0425,"p":2,"w":0.95},{"m":10.9,"e":0.0415,"p":7,"w":0.9},{"m":10.5,"e":0.041,"p":3,"w":0.9},{"m":19.4,"e":0.0415,"p":2.5,"w":0.95},{"m":12.3,"e":0.0398,"p":12,"w":0.9},{"m":9.4,"e":0.039,"p":40,"w":0.4},{"m":10.2,"e":0.0393,"p":2.5,"w":0.9},
{"m":13,"e":0.514,"p":3.7,"w":0.95},{"m":21,"e":0.447,"p":1.2,"w":0.95},{"m":15.6,"e":0.434,"p":4,"w":0.95},{"m":14.1,"e":0.388,"p":5,"w":0.95},{"m":12.5,"e":0.375,"p":1.4,"w":0.95},{"m":15.6,"e":0.369,"p":3,"w":0.95},{"m":12.4,"e":0.344,"p":2.2,"w":0.9},{"m":15,"e":0.34,"p":2.8,"w":0.95},{"m":13.9,"e":0.323,"p":2,"w":0.95},{"m":11.8,"e":0.32,"p":5,"w":0.8},{"m":10.8,"e":0.307,"p":1.1,"w":0.95},{"m":11,"e":0.307,"p":1.1,"w":0.95},{"m":8.7,"e":0.325,"p":1.5,"w":0.95},{"m":9.15,"e":0.305,"p":6,"w":0.9},{"m":30.6,"e":0.405,"p":2.8,"w":0.95},{"m":27.5,"e":0.333,"p":9,"w":0.95},{"m":22.3,"e":0.293,"p":2.8,"w":0.95},{"m":15,"e":0.278,"p":1.2,"w":0.95},{"m":14.9,"e":0.261,"p":3,"w":0.95},{"m":11,"e":0.263,"p":8,"w":0.95},{"m":8.6,"e":0.248,"p":2.5,"w":0.95},{"m":9.65,"e":0.245,"p":6,"w":0.95},{"m":12.5,"e":0.23,"p":60,"w":0.95},{"m":17.5,"e":0.233,"p":1.2,"w":0.95},{"m":18,"e":0.224,"p":2.5,"w":0.95},{"m":10.4,"e":0.219,"p":1.3,"w":0.95},{"m":10.6,"e":0.207,"p":2,"w":0.95},{"m":9.9,"e":0.2,"p":9,"w":0.95},{"m":17,"e":0.204,"p":4.5,"w":0.95},{"m":18.6,"e":0.197,"p":2.8,"w":0.95},{"m":27.7,"e":0.21,"p":4,"w":0.95},{"m":31,"e":0.192,"p":5,"w":0.95},{"m":13.6,"e":0.19,"p":4.5,"w":0.95},{"m":41,"e":0.165,"p":2,"w":0.95},{"m":14.3,"e":0.174,"p":8,"w":0.95},{"m":16.8,"e":0.174,"p":1.4,"w":0.95},{"m":17.3,"e":0.166,"p":5,"w":0.95},{"m":16,"e":0.163,"p":6,"w":0.95},{"m":11.2,"e":0.17,"p":5,"w":0.9},{"m":10.8,"e":0.167,"p":8,"w":0.9},{"m":12.6,"e":0.167,"p":1.4,"w":0.95},{"m":8.75,"e":0.165,"p":3.5,"w":0.95},{"m":8.7,"e":0.154,"p":5,"w":0.95},{"m":8.95,"e":0.153,"p":80,"w":0.95},{"m":8.95,"e":0.155,"p":2.5,"w":0.5},{"m":12.9,"e":0.153,"p":2.5,"w":0.95},{"m":14.9,"e":0.159,"p":9,"w":0.95},{"m":14.4,"e":0.156,"p":1.2,"w":0.95},
{"m":90,"e":0.08,"p":11,"w":0.95},{"m":95.8,"e":0.0572,"p":17,"w":0.95},{"m":45.5,"e":0.0325,"p":11,"w":0.95},{"m":69.5,"e":0.0237,"p":1.2,"w":0.95}
]},"mark":{"type":"circle","size":145,"clip":true},"encoding":{"x":{"field":"m","type":"quantitative","scale":{"type":"log","domain":[0.5,100],"nice":false},"axis":{"title":"𝑀 sin𝑖 (M⊕)","values":[0.5,0.6,0.7,0.8,0.9,1,2,3,4,5,6,7,8,9,10,20,30,40,50,60,70,80,90,100],"labelExpr":"datum.value==1?'10⁰':datum.value==10?'10¹':datum.value==100?'10²':''","tickSize":{"condition":{"test":"datum.value==1||datum.value==10||datum.value==100","value":10},"value":5.5},"labelPadding":11,"titlePadding":13}},"y":{"field":"e","type":"quantitative","scale":{"type":"log","domain":[0.01,1],"nice":false},"axis":{"title":"Eccentricity","values":[0.01,0.02,0.03,0.04,0.05,0.06,0.07,0.08,0.09,0.1,0.2,0.3,0.4,0.5,0.6,0.7,0.8,0.9,1],"labelExpr":"datum.value==1?'10⁰':datum.value==0.1?'10⁻¹':datum.value==0.01?'10⁻²':''","tickSize":{"condition":{"test":"datum.value==1||datum.value==0.1||datum.value==0.01","value":10},"value":5.5},"labelPadding":6,"titlePadding":21}},"color":{"field":"p","type":"quantitative","scale":{"type":"log","domain":[1,100],"scheme":"viridis"},"legend":null},"opacity":{"field":"w","type":"quantitative","scale":{"type":"linear","domain":[0,1],"range":[0,1]},"legend":null}}},
{"data":{"name":"planet","values":[{"mass":10.68,"ecc":0.58,"massLow":9.74,"massHigh":11.72,"eccLow":0.525,"eccHigh":0.636,"series":"GJ 724 b"}]},"mark":{"type":"rule","color":"black","strokeWidth":5},"encoding":{"x":{"field":"massLow","type":"quantitative"},"x2":{"field":"massHigh"},"y":{"field":"ecc","type":"quantitative"}}},
{"data":{"name":"planet"},"mark":{"type":"rule","color":"black","strokeWidth":5},"encoding":{"x":{"field":"mass","type":"quantitative"},"y":{"field":"eccLow","type":"quantitative"},"y2":{"field":"eccHigh"}}},
{"data":{"name":"planet"},"mark":{"type":"point","filled":true,"opacity":1,"strokeWidth":3},"encoding":{"x":{"field":"mass","type":"quantitative"},"y":{"field":"ecc","type":"quantitative"},"shape":{"field":"series","type":"nominal","scale":{"domain":["synthetic planets","GJ 724 b"],"range":["circle","square"]},"legend":{"title":null,"orient":"none","legendX":15,"legendY":151,"fillColor":"#ffffffcc","strokeColor":"#cccccc","cornerRadius":5,"padding":12,"labelFontSize":29.5,"labelColor":"black","labelLimit":400,"symbolOffset":13,"labelOffset":41,"rowPadding":13,"symbolStrokeWidth":3,"symbolOpacity":1}},"fill":{"field":"series","type":"nominal","scale":{"domain":["synthetic planets","GJ 724 b"],"range":["#d2e3ef","#ff7f0e"]},"legend":{"title":null}},"stroke":{"field":"series","type":"nominal","scale":{"domain":["synthetic planets","GJ 724 b"],"range":["#d2e3ef00","#000000"]},"legend":{"title":null}},"size":{"field":"series","type":"ordinal","scale":{"domain":["synthetic planets","GJ 724 b"],"range":[145,361]},"legend":{"title":null}}}}
]},
{"width":246,"height":652,"layer":[
{"data":{"values":[{"low":0.01,"high":0.01389,"fraction":0.05},{"low":0.01389,"high":0.01931,"fraction":0.0717},{"low":0.01931,"high":0.02683,"fraction":0.0729},{"low":0.02683,"high":0.03728,"fraction":0.0813},{"low":0.03728,"high":0.05179,"fraction":0.0747},{"low":0.05179,"high":0.07197,"fraction":0.0995},{"low":0.07197,"high":0.1,"fraction":0.1187},{"low":0.1,"high":0.1389,"fraction":0.103},{"low":0.1389,"high":0.1931,"fraction":0.0798},{"low":0.1931,"high":0.2683,"fraction":0.053},{"low":0.2683,"high":0.3728,"fraction":0.048},{"low":0.3728,"high":0.5179,"fraction":0.0217},{"low":0.5179,"high":0.7197,"fraction":0.001}]},"mark":{"type":"rect","color":"#1f77b4","stroke":"#1f77b4","strokeWidth":0.6},"encoding":{"x":{"field":"fraction","type":"quantitative","scale":{"domain":[0,0.1242],"nice":false},"axis":{"title":"Fraction","values":[0,0.1],"format":".1f","tickSize":10,"labelPadding":11,"titlePadding":13}},"x2":{"datum":0},"y":{"field":"low","type":"quantitative","scale":{"type":"log","domain":[0.01,1],"nice":false},"axis":{"title":null,"labels":false,"values":[0.01,0.02,0.03,0.04,0.05,0.06,0.07,0.08,0.09,0.1,0.2,0.3,0.4,0.5,0.6,0.7,0.8,0.9,1],"tickSize":{"condition":{"test":"datum.value==1||datum.value==0.1||datum.value==0.01","value":10},"value":5.5}}},"y2":{"field":"high"}}},
{"data":{"values":[{"eccLow":0.526,"eccHigh":0.641}]},"mark":{"type":"rect","fill":"#808080","fillOpacity":0.5,"stroke":"#808080","strokeOpacity":0.5,"strokeWidth":1.5},"encoding":{"y":{"field":"eccLow","type":"quantitative"},"y2":{"field":"eccHigh"}}},
{"data":{"values":[{"ecc":0.58}]},"mark":{"type":"rule","color":"#000000","opacity":0.7,"strokeWidth":1.5},"encoding":{"y":{"field":"ecc","type":"quantitative"}}}
]}
]}
